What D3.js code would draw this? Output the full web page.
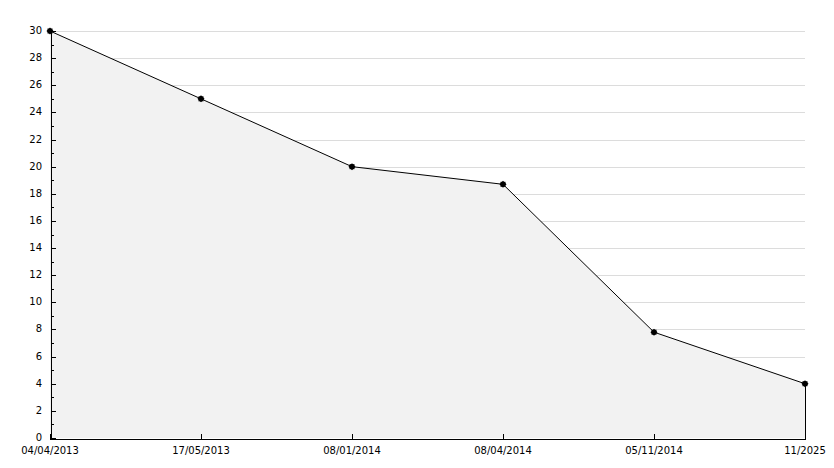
<!DOCTYPE html>
<html>
<head>
<meta charset="utf-8">
<script src="https://cdn.jsdelivr.net/npm/d3@7"></script>
<style>
  body { margin: 0; background: #fff; }
  text { font-family: "DejaVu Sans", sans-serif; font-size: 10px; fill: #000; }
  .axis line, .axis path, .grid { shape-rendering: crispEdges; }
</style>
</head>
<body>
<svg id="chart"></svg>
<script>
var dates = ["04/04/2013", "17/05/2013", "08/01/2014", "08/04/2014", "05/11/2014", "11/2025"];
var values = [30, 25, 20, 18.7, 7.8, 4];
var yTicks = d3.range(0, 31, 2);
var yMinor = d3.range(1, 30, 2);

var margin = {top: 31, right: 29, bottom: 30, left: 50},
    width = 834 - margin.left - margin.right,
    height = 468 - margin.top - margin.bottom;

var svg = d3.select("#chart")
    .attr("width", 834)
    .attr("height", 468)
  .append("g")
    .attr("transform", "translate(" + margin.left + "," + margin.top + ")");

var x = d3.scalePoint()
    .domain(dates)
    .range([0, width]);

var y = d3.scaleLinear()
    .domain([0, 30])
    .range([height, 0]);

var data = dates.map(function(d, i) { return {date: d, value: values[i]}; });

// grid
svg.selectAll(".grid")
    .data(yTicks.filter(function(v) { return v > 0; }))
  .enter().append("line")
    .attr("class", "grid")
    .attr("x1", 0).attr("x2", width)
    .attr("y1", function(d) { return Math.round(y(d)) + 0.5; })
    .attr("y2", function(d) { return Math.round(y(d)) + 0.5; })
    .style("stroke", "#dcdcdc");

var area = d3.area()
    .x(function(d) { return x(d.date); })
    .y0(y(0))
    .y1(function(d) { return y(d.value); });

svg.append("path")
    .datum(data)
    .attr("d", area)
    .style("fill", "#f2f2f2");

// right edge of the area
svg.append("line")
    .attr("x1", x(dates[dates.length - 1]) + 0.5)
    .attr("x2", x(dates[dates.length - 1]) + 0.5)
    .attr("y1", y(values[values.length - 1]))
    .attr("y2", y(0))
    .style("stroke", "#000");

var line = d3.line()
    .x(function(d) { return x(d.date); })
    .y(function(d) { return y(d.value); });

svg.append("path")
    .datum(data)
    .attr("d", line)
    .style("fill", "none")
    .style("stroke", "#000")
    .style("stroke-width", 1);

// axes
var yAxis = d3.axisRight(y).tickValues(yTicks).tickSize(5).tickFormat("");
svg.append("g")
    .attr("class", "y axis")
    .attr("transform", "translate(0.5,0)")
    .call(yAxis);

svg.append("g")
    .attr("class", "axis")
    .attr("transform", "translate(0.5,0)")
    .call(d3.axisRight(y).tickValues(yMinor).tickSize(3).tickFormat(""))
    .select(".domain").remove();

svg.selectAll(".ylabel")
    .data(yTicks)
  .enter().append("text")
    .attr("class", "ylabel")
    .attr("x", -8)
    .attr("y", function(d) { return y(d); })
    .attr("dy", "0.3em")
    .style("text-anchor", "end")
    .text(function(d) { return d; });

var xAxis = d3.axisTop(x).tickSize(5).tickFormat("");
svg.append("g")
    .attr("class", "x axis")
    .attr("transform", "translate(0," + (height + 0.5) + ")")
    .call(xAxis);

svg.selectAll(".xlabel")
    .data(dates)
  .enter().append("text")
    .attr("class", "xlabel")
    .attr("x", function(d) { return x(d); })
    .attr("y", height + 16)
    .style("text-anchor", "middle")
    .text(function(d) { return d; });

svg.selectAll(".axis path, .axis line").style("stroke", "#000");

// markers
svg.selectAll(".dot")
    .data(data)
  .enter().append("path")
    .attr("class", "dot")
    .attr("transform", function(d) { return "translate(" + x(d.date) + "," + y(d.value) + ")"; })
    .attr("d", d3.symbol().type(d3.symbolSquare).size(25))
    .style("fill", "#000");
svg.selectAll(".dot2")
    .data(data)
  .enter().append("path")
    .attr("transform", function(d) { return "translate(" + x(d.date) + "," + y(d.value) + ") rotate(45)"; })
    .attr("d", d3.symbol().type(d3.symbolSquare).size(25))
    .style("fill", "#000");
</script>
</body>
</html>
